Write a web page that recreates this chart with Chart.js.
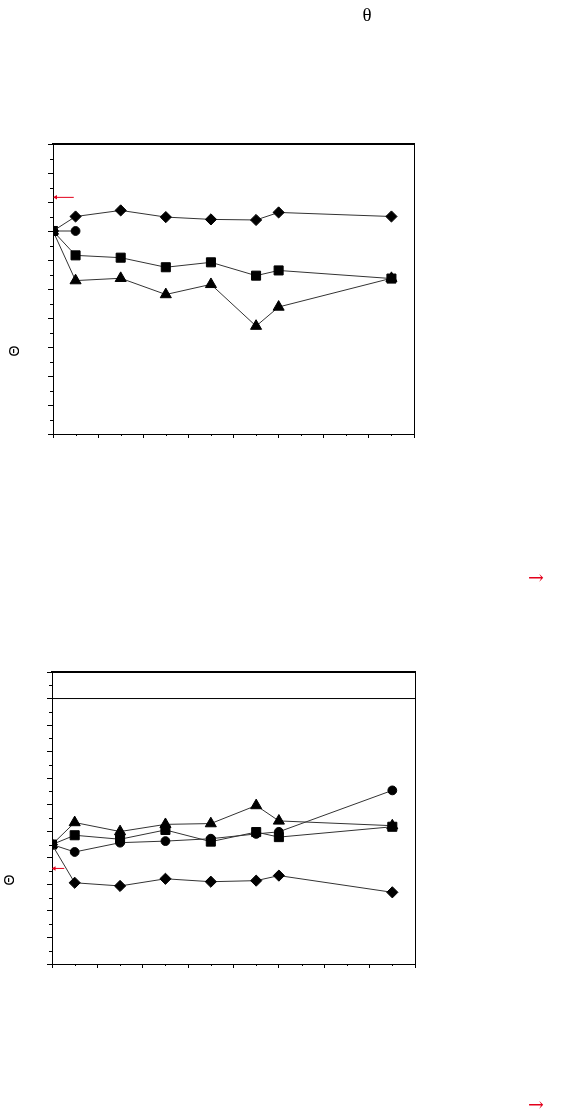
<!DOCTYPE html>
<html>
<head>
<meta charset="utf-8">
<script src="https://cdn.jsdelivr.net/npm/chart.js@4.4.0/dist/chart.umd.min.js"></script>
<style>
  html, body { margin: 0; padding: 0; background: #fff; }
  body { width: 562px; height: 1113px; position: relative; overflow: hidden; }
  canvas { position: absolute; left: 0; }
  #c1 { top: 0; }
  #c2 { top: 556px; }
  .txt { position: absolute; text-align: center; white-space: nowrap; }
  .serif { font-family: "Liberation Serif", "DejaVu Serif", serif; }
  .arr { font-family: "DejaVu Serif", serif; font-size: 19px; line-height: 20px; width: 40px; }
  .rot { font-family: "Liberation Sans", "DejaVu Sans", sans-serif; font-size: 14px; line-height: 20px; width: 20px; height: 20px; transform: rotate(-90deg); }
  .red { color: #e3001b; }
</style>
</head>
<body>
<canvas id="c1" width="562" height="556"></canvas>
<canvas id="c2" width="562" height="557"></canvas>

<div class="txt serif" style="left:347px; top:5px; width:40px; font-size:19px; line-height:19px;">θ</div>
<div class="txt rot" style="left:4px; top:341px;">Θ</div>
<div class="txt rot" style="left:-1px; top:870px;">Θ</div>
<div class="txt arr red" style="left:516px; top:567px;">→</div>
<div class="txt arr red" style="left:516px; top:1094px;">→</div>

<script>
// ---- data ----
const xValues = [0, 5, 15, 25, 35, 45, 50, 75];

// Chart 1
const c1Diamond  = [70, 75.0, 77.1, 74.8, 74.0, 73.8, 76.4, 75.0];
const c1Square   = [70, 61.6, 60.8, 57.5, 59.2, 54.6, 56.4, 53.6];
const c1Triangle = [70, 52.9, 53.7, 48.1, 51.6, 37.2, 43.8, 53.7];
const c1Circle   = [70, 70];
const c1ArrowX   = [0.6, 4.6];
const c1ArrowY   = 81.6;

// Chart 2
const c2Diamond  = [45, 30.6, 29.4, 32.1, 31.0, 31.4, 33.3, 27.0];
const c2Circle   = [45, 42.2, 45.7, 46.3, 47.2, 49.0, 49.8, 65.4];
const c2Square   = [45, 48.5, 47.0, 50.5, 46.1, 49.7, 47.8, 51.7];
const c2Triangle = [45, 53.3, 49.9, 52.6, 52.9, 59.7, 53.9, 52.1];
const c2RefX     = [0, 80];
const c2RefY     = 100;
const c2ArrowX   = [0.5, 2.7];
const c2ArrowY   = 36;

// axis ranges
const xRange  = [0, 80];
const y1Range = [0, 100];
const y2Range = [0, 110];
const majorStep = 10;
const minorStep = 5;

// ---- helpers ----
const pts = (ys) => ys.map((y, i) => ({ x: xValues[i], y }));
const hpts = (xs, y) => xs.map(x => ({ x, y }));

const MARK = {
  diamond:  { pointStyle: 'rectRot',  pointRadius: 5.6 },
  square:   { pointStyle: 'rect',     pointRadius: 6.4 },
  triangle: { pointStyle: 'triangle', pointRadius: 6.4 },
  circle:   { pointStyle: 'circle',   pointRadius: 4.4 }
};

function series(ys, kind) {
  return Object.assign({
    data: pts(ys),
    borderColor: '#333',
    borderWidth: 1,
    pointBackgroundColor: '#000',
    pointBorderColor: '#000',
    pointBorderWidth: 1,
    tension: 0,
    fill: false
  }, MARK[kind], { pointHoverRadius: MARK[kind].pointRadius });
}

function arrow(xs, y) {
  return {
    data: hpts(xs, y),
    borderColor: '#e3001b',
    borderWidth: 1,
    pointStyle: 'triangle',
    pointRotation: 270,
    pointRadius: [2.6, 0],
    pointBackgroundColor: '#e3001b',
    pointBorderColor: '#e3001b',
    pointBorderWidth: 0,
    fill: false
  };
}

const minorTicks = {
  id: 'minorTicks',
  afterDraw(chart) {
    const ctx = chart.ctx;
    const xs = chart.scales.x, ys = chart.scales.y;
    ctx.save();
    ctx.strokeStyle = '#000';
    ctx.lineWidth = 1;
    ctx.beginPath();
    for (let v = xs.min + minorStep; v < xs.max; v += majorStep) {
      const px = Math.round(xs.getPixelForValue(v)) + 0.5;
      ctx.moveTo(px, xs.top);
      ctx.lineTo(px, xs.top + 2);
    }
    for (let v = ys.min + minorStep; v < ys.max; v += majorStep) {
      const py = Math.round(ys.getPixelForValue(v)) + 0.5;
      ctx.moveTo(ys.right - 3, py);
      ctx.lineTo(ys.right, py);
    }
    ctx.stroke();
    ctx.restore();
  }
};

function makeScales(yr) {
  return {
    x: {
      type: 'linear', position: 'bottom', min: xRange[0], max: xRange[1],
      ticks: { display: false, stepSize: majorStep },
      grid: { display: true, drawOnChartArea: false, drawTicks: true, tickLength: 4, tickColor: '#000', tickWidth: 1 },
      border: { display: true, color: '#000', width: 1 }
    },
    y: {
      type: 'linear', position: 'left', min: yr[0], max: yr[1],
      ticks: { display: false, stepSize: majorStep },
      grid: { display: true, drawOnChartArea: false, drawTicks: true, tickLength: 5, tickColor: '#000', tickWidth: 1 },
      border: { display: true, color: '#000', width: 1 }
    },
    xTop: {
      type: 'linear', position: 'top', min: 0, max: 1,
      ticks: { display: false },
      grid: { display: false, drawTicks: false },
      border: { display: true, color: '#000', width: 2 }
    },
    yRight: {
      type: 'linear', position: 'right', min: 0, max: 1,
      ticks: { display: false },
      grid: { display: false, drawTicks: false },
      border: { display: true, color: '#000', width: 1 }
    }
  };
}

function baseOptions(yr, padding) {
  return {
    responsive: false,
    animation: false,
    devicePixelRatio: 1,
    layout: { padding },
    plugins: { legend: { display: false }, tooltip: { enabled: false }, title: { display: false } },
    elements: { line: { tension: 0 } },
    scales: makeScales(yr)
  };
}

new Chart(document.getElementById('c1'), {
  type: 'line',
  data: {
    datasets: [
      series(c1Diamond, 'diamond'),
      series(c1Circle, 'circle'),
      series(c1Square, 'square'),
      series(c1Triangle, 'triangle'),
      arrow(c1ArrowX, c1ArrowY)
    ]
  },
  options: baseOptions(y1Range, { left: 48, right: 148, top: 144, bottom: 118 }),
  plugins: [minorTicks]
});

new Chart(document.getElementById('c2'), {
  type: 'line',
  data: {
    datasets: [
      series(c2Diamond, 'diamond'),
      series(c2Circle, 'circle'),
      series(c2Square, 'square'),
      series(c2Triangle, 'triangle'),
      {
        data: hpts(c2RefX, c2RefY),
        borderColor: '#000', borderWidth: 1, pointRadius: 0, fill: false
      },
      arrow(c2ArrowX, c2ArrowY)
    ]
  },
  options: baseOptions(y2Range, { left: 47, right: 147, top: 116, bottom: 145 }),
  plugins: [minorTicks]
});
</script>
</body>
</html>
